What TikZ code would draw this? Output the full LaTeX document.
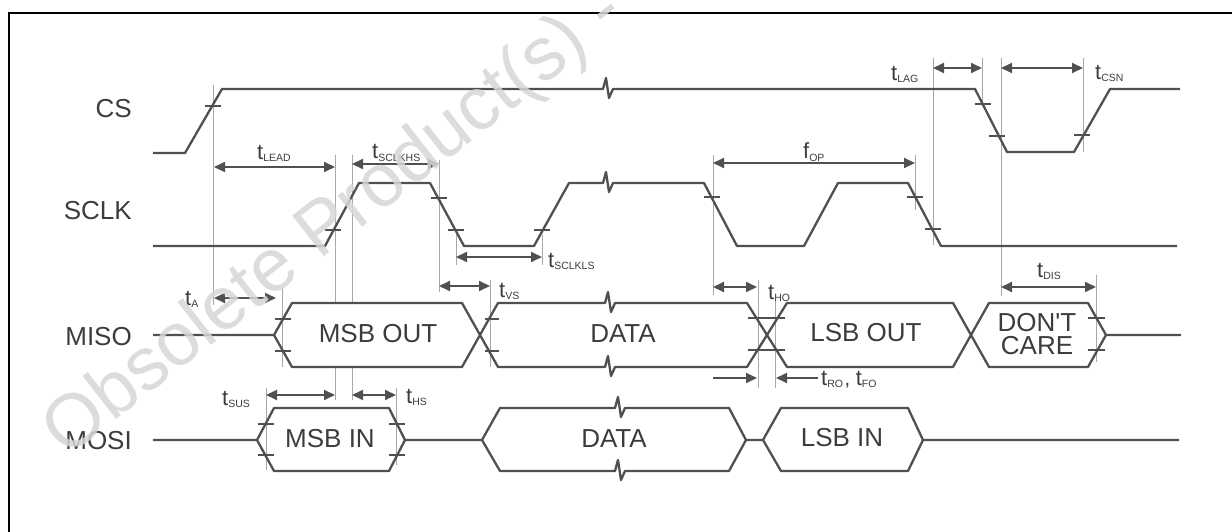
\documentclass[tikz,border=0pt]{standalone}
\usepackage{fontspec}
\setmainfont{Liberation Sans}[Ligatures=TeXOff]
\usetikzlibrary{arrows.meta}
\definecolor{sig}{HTML}{505050}
\definecolor{txt}{HTML}{3C3C3C}
\definecolor{guidec}{HTML}{A8A8A8}
\definecolor{wm}{HTML}{D6D6D6}
\newcommand\tlab[2]{{\fontsize{22}{22}\selectfont #1}{\fontsize{10.5}{11}\selectfont\raisebox{-2pt}{#2}}}
\begin{document}
\begin{tikzpicture}[x=1pt,y=-1pt,
  sigline/.style={draw=sig,line width=2.3pt,line join=round},
  tickm/.style={draw=sig,line width=1.8pt},
  guide/.style={draw=guidec,line width=0.8pt},
  dim/.style={draw=sig,line width=1.9pt,{Triangle[length=11pt,width=10pt]}-{Triangle[length=11pt,width=10pt]}},
  onearrow/.style={draw=sig,line width=1.9pt,-{Triangle[length=11pt,width=10pt]}},
  siglabel/.style={text=txt,font=\fontsize{26}{26}\selectfont,anchor=base east,inner sep=0pt},
  boxtext/.style={text=txt,font=\fontsize{26}{26}\selectfont,inner sep=0pt,align=center},
  tlabel/.style={text=txt,inner sep=0pt,anchor=base west},
]
\useasboundingbox (0,0) rectangle (1232,532);
% frame
\draw[black,line width=2.5pt] (9,532) -- (9,13) -- (1232,13);

% guide lines
\foreach \gx/\ga/\gb in {213/85/305, 335/155/303, 335/367/400, 352/155/303, 352/367/400,
  439/160/292, 456/235/265, 542/235/265, 282/288/367, 490/280/367, 266/388/470, 396/388/465,
  713/155/295, 915/155/210, 933/58/245, 982/58/103, 1001/58/296, 1083/58/152,
  758/280/388, 775/300/388, 1096/275/362}
  \draw[guide] (\gx,\ga) -- (\gx,\gb);

% signal labels
\node[siglabel] (lcs) at (132,118) {CS};
\node[siglabel] (lsclk) at (132,219) {SCLK};
\node[siglabel] (lmiso) at (132,345) {MISO};
\node[siglabel] (lmosi) at (132,449) {MOSI};

% CS
\draw[sigline] (153,153) -- (185,153) -- (222,89) -- (603,89) -- ++(3,-11) -- ++(3,20) -- ++(4,-9)
  -- (975,89) -- (1007,152) -- (1074,152) -- (1110,89) -- (1180,89);
% SCLK
\draw[sigline] (153,246) -- (325,246) -- (359,183) -- (430,183) -- (464,246) -- (534,246) -- (569,183)
  -- (603,183) -- ++(3,-11) -- ++(3,20) -- ++(4,-9) -- (704,183) -- (737,246) -- (804,246) -- (838,183)
  -- (908,183) -- (941,246) -- (1177,246);
% MISO
\draw[sigline] (153,335) -- (274,335) -- (292,303) -- (462,303) -- (498,367) -- (605,367)
  -- ++(3,-11) -- ++(3,20) -- ++(4,-9) -- (747,367) -- (787,303) -- (953,303) -- (971,335)
  -- (989,367) -- (1088,367) -- (1106,335) -- (1181,335);
\draw[sigline] (274,335) -- (292,367) -- (462,367) -- (498,303) -- (605,303)
  -- ++(3,-11) -- ++(3,20) -- ++(4,-9) -- (747,303) -- (787,367) -- (953,367) -- (971,335)
  -- (989,303) -- (1088,303) -- (1106,335);
% MOSI
\draw[sigline] (153,440) -- (257,440) -- (274,408) -- (389,408) -- (405,440) -- (482,440) -- (500,408)
  -- (615,408) -- ++(3,-11) -- ++(3,20) -- ++(4,-9) -- (729,408) -- (746,440) -- (763,440) -- (781,408)
  -- (908,408) -- (923,440) -- (1179,440);
\draw[sigline] (257,440) -- (274,471) -- (389,471) -- (405,440);
\draw[sigline] (482,440) -- (500,471) -- (615,471) -- ++(3,-11) -- ++(3,20) -- ++(4,-9) -- (729,471) -- (746,440);
\draw[sigline] (763,440) -- (781,471) -- (908,471) -- (923,440);

% ticks
\foreach \tx/\ty/\tw in {213/106/16, 983/104/16, 997/136/16, 1082/135/16,
  333/230/16, 439/198/16, 456/230/16, 542/230/16, 712/197/16, 915/197/16, 933/229/16,
  283/319/16, 283/351/16, 492/319/14, 492/351/14, 766/318/37, 766/350/37, 1096/318/17, 1096/350/17,
  266/424/16, 266/455/16, 397/424/16, 397/455/16}
  \draw[tickm] (\tx-\tw/2,\ty) -- (\tx+\tw/2,\ty);

% box texts
\node[boxtext] (tmsbout) at (378,334) {MSB OUT};
\node[boxtext] (tdata1) at (623,334) {DATA};
\node[boxtext] (tlsbout) at (866,333) {LSB OUT};
\node[boxtext] (tdc) at (1037,334) {DON'T\\[-3pt]CARE};
\node[boxtext] (tmsbin) at (330,439) {MSB IN};
\node[boxtext] (tdata2) at (614,439) {DATA};
\node[boxtext] (tlsbin) at (842,438) {LSB IN};

% dimension arrows
\coordinate (a1) at (214,167); \coordinate (a2) at (335,167);
\draw[dim] (a1) -- (a2);
\node[tlabel,anchor=base] (llead) at (274,160) {\tlab{t}{LEAD}};
\coordinate (b1) at (352,164); \coordinate (b2) at (439,164);
\draw[dim] (b1) -- (b2);
\node[tlabel] (lsclkhs) at (372,159) {\tlab{t}{SCLKHS}};
\coordinate (c1) at (456,257); \coordinate (c2) at (542,257);
\draw[dim] (c1) -- (c2);
\node[tlabel] (lsclkls) at (548,267) {\tlab{t}{SCLKLS}};
\coordinate (d1) at (439,286); \coordinate (d2) at (490,286);
\draw[dim] (d1) -- (d2);
\node[tlabel] (lvs) at (499,297) {\tlab{t}{VS}};
\coordinate (e1) at (214,298); \coordinate (e2) at (276,298);
\draw[dim] (e1) -- (e2);
\node[tlabel] (la) at (185,305) {\tlab{t}{A}};
\coordinate (f1) at (266,395); \coordinate (f2) at (335,395);
\draw[dim] (f1) -- (f2);
\node[tlabel] (lsus) at (222,405) {\tlab{t}{SUS}};
\coordinate (g1) at (352,395); \coordinate (g2) at (396,395);
\draw[dim] (g1) -- (g2);
\node[tlabel] (lhs) at (406,403) {\tlab{t}{HS}};
\coordinate (h1) at (713,163); \coordinate (h2) at (915,163);
\draw[dim] (h1) -- (h2);
\node[tlabel] (lop) at (803,159) {\tlab{f}{OP}};
\coordinate (i1) at (933,68); \coordinate (i2) at (982,68);
\draw[dim] (i1) -- (i2);
\node[tlabel] (llag) at (891,81) {\tlab{t}{LAG}};
\coordinate (j1) at (1001,68); \coordinate (j2) at (1083,68);
\draw[dim] (j1) -- (j2);
\node[tlabel] (lcsn) at (1095,80) {\tlab{t}{CSN}};
\coordinate (k1) at (713,287); \coordinate (k2) at (757,287);
\draw[dim] (k1) -- (k2);
\node[tlabel] (lho) at (768,299) {\tlab{t}{HO}};
\coordinate (m1) at (1001,287); \coordinate (m2) at (1096,287);
\draw[dim] (m1) -- (m2);
\node[tlabel,anchor=base] (ldis) at (1049,277) {\tlab{t}{DIS}};
\coordinate (n1) at (713,378); \coordinate (n2) at (757,378);
\draw[onearrow] (n1) -- (n2);
\coordinate (o1) at (818,378); \coordinate (o2) at (776,378);
\draw[onearrow] (o1) -- (o2);
\node[tlabel] (lrofo) at (821,385) {\tlab{t}{RO}\,\fontsize{20}{20}\selectfont, \tlab{t}{FO}};

% watermark
\node[text=wm,text opacity=0.85,font=\fontsize{75}{75}\selectfont,rotate=38,anchor=base,inner sep=0pt]
  (wmark) at (347,239) {Obsolete Product(s) -};
\end{tikzpicture}
\end{document}
